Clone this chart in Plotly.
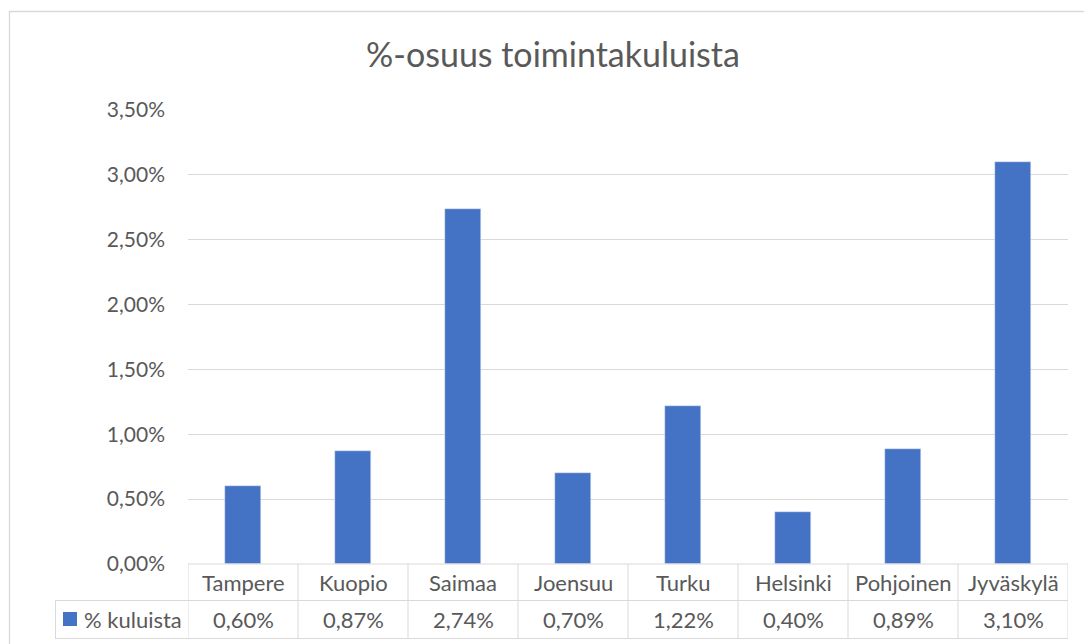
import plotly.graph_objects as go

categories = ["Tampere", "Kuopio", "Saimaa", "Joensuu", "Turku", "Helsinki", "Pohjoinen", "Jyväskylä"]
values = [0.0060, 0.0087, 0.0274, 0.0070, 0.0122, 0.0040, 0.0089, 0.0310]
value_labels = ["0,60%", "0,87%", "2,74%", "0,70%", "1,22%", "0,40%", "0,89%", "3,10%"]
series_name = "% kuluista"
title_text = "%-osuus toimintakuluista"

BAR = "#4472C4"
GRID = "#d9d9d9"
TXT = "#595959"
FONT = "Lato"

W, H = 1084, 644
L, R, T, B = 188, 16, 110, 80
plot_h = H - T - B
plot_w = W - L - R

def py(pix):  # pixel y -> paper y
    return (H - B - pix) / plot_h

def px(pix):
    return (pix - L) / plot_w

fig = go.Figure()
fig.add_trace(go.Bar(x=list(range(len(categories))), y=values, marker_color=BAR,
                     width=0.32, name=series_name, showlegend=False, hoverinfo="skip"))

n = len(categories)
shapes = []
line = dict(color=GRID, width=1)
# outer chart border
shapes.append(dict(type="rect", xref="paper", yref="paper", x0=px(9.5), x1=px(1100),
                   y0=py(660), y1=py(11.5), line=dict(color=GRID, width=1.3), layer="below"))
# table horizontal lines
y_top, y_mid, y_bot = py(564), py(600.5), py(638.5)
shapes.append(dict(type="line", xref="x", yref="paper", x0=-0.5, x1=n - 0.5, y0=y_top, y1=y_top, line=line))
shapes.append(dict(type="line", xref="paper", yref="paper", x0=px(55), x1=1, y0=y_mid, y1=y_mid, line=line))
shapes.append(dict(type="line", xref="paper", yref="paper", x0=px(55), x1=1, y0=y_bot, y1=y_bot, line=line))
# vertical lines
for i in range(n + 1):
    shapes.append(dict(type="line", xref="x", yref="paper", x0=i - 0.5, x1=i - 0.5, y0=y_top, y1=y_bot, line=line))
shapes.append(dict(type="line", xref="paper", yref="paper", x0=px(55.5), x1=px(55.5), y0=y_mid, y1=y_bot, line=line))
# legend key
shapes.append(dict(type="rect", xref="paper", yref="paper", x0=px(63), x1=px(77), y0=py(626), y1=py(612),
                   fillcolor=BAR, line=dict(width=0)))

annotations = []
for i, (c, v) in enumerate(zip(categories, value_labels)):
    annotations.append(dict(x=i, y=py(582), xref="x", yref="paper", text=c, showarrow=False,
                            xanchor="center", yanchor="middle",
                            font=dict(family=FONT, size=22, color=TXT)))
    annotations.append(dict(x=i, y=py(619.5), xref="x", yref="paper", text=v, showarrow=False,
                            xanchor="center", yanchor="middle",
                            font=dict(family=FONT, size=22, color=TXT)))
annotations.append(dict(x=px(82), y=py(619.5), xref="paper", yref="paper", text=series_name,
                        showarrow=False, xanchor="left", yanchor="middle",
                        font=dict(family=FONT, size=22, color=TXT)))

fig.update_layout(
    width=W, height=H, autosize=False,
    margin=dict(l=L, r=R, t=T, b=B),
    paper_bgcolor="white", plot_bgcolor="white",
    separators=", ",
    title=dict(text=title_text, x=553 / W, xanchor="center", y=1 - 55 / H, yanchor="middle",
               font=dict(family=FONT, size=34, color=TXT)),
    xaxis=dict(range=[-0.5, n - 0.5], showticklabels=False, showgrid=False, zeroline=False,
               showline=False, fixedrange=True),
    yaxis=dict(range=[0, 0.035], dtick=0.005, tickformat=".2%", showgrid=True, gridcolor=GRID,
               gridwidth=1, zeroline=False, showline=False, ticks="", ticklabelstandoff=22,
               tickfont=dict(family=FONT, size=21, color=TXT), fixedrange=True),
    shapes=shapes, annotations=annotations,
    bargap=0,
)
fig.write_html("out.html", config={"displayModeBar": False},
               post_script="document.body.style.margin='0';document.body.style.overflow='hidden';")
